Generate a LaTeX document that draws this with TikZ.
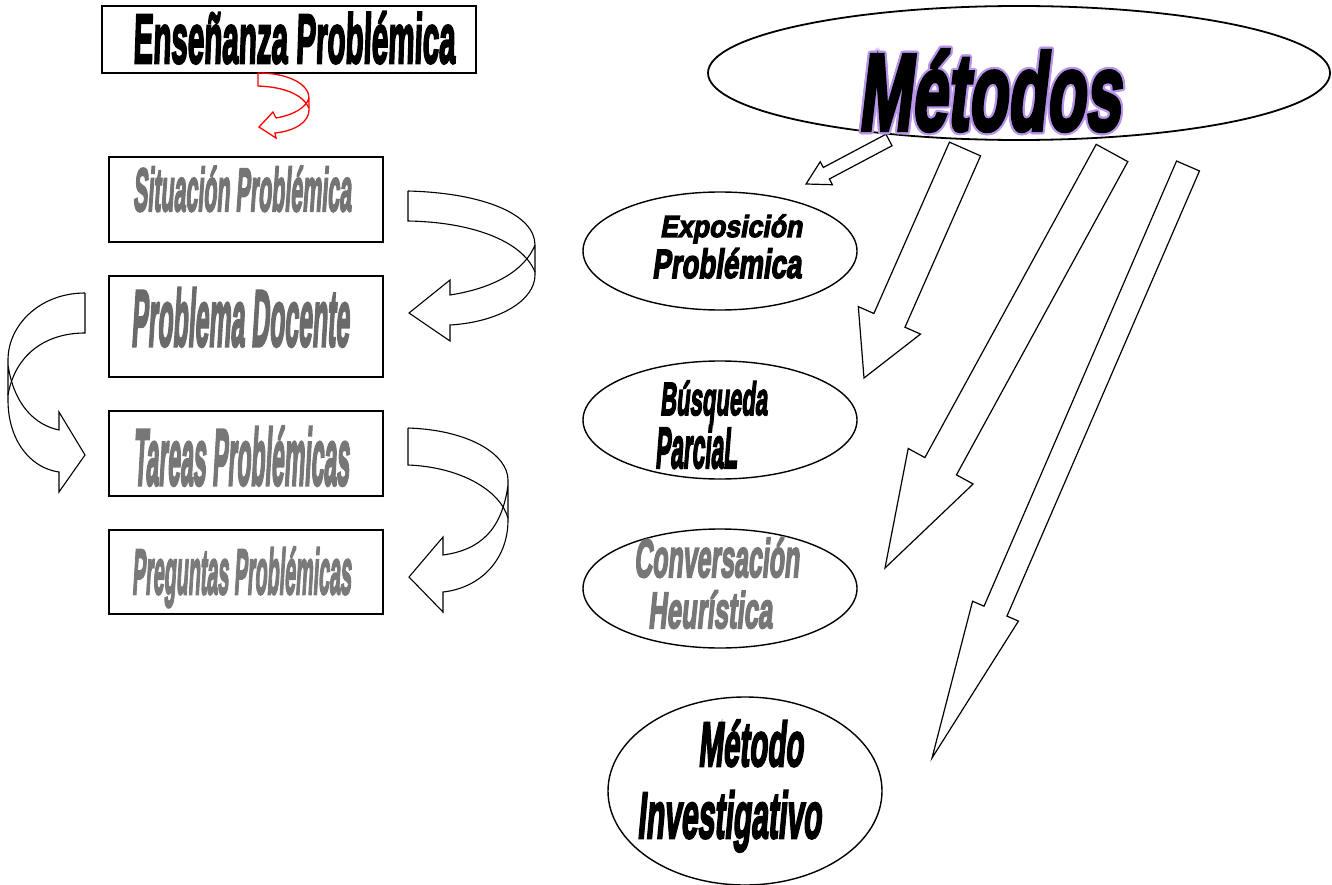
\documentclass[tikz,border=0pt]{standalone}
\usepackage{fontspec}
\usepackage{graphicx}
\usetikzlibrary{shapes.geometric,calc}
\newfontfamily\impup[FakeSlant=0.08,FakeBold=4]{Liberation Sans}
\newfontfamily\impsl[FakeSlant=0.2,FakeBold=4]{Liberation Sans}
\definecolor{gA}{HTML}{747474}
\definecolor{gB}{HTML}{6B6B6B}
\definecolor{gC}{HTML}{777777}
\definecolor{gD}{HTML}{7A7A7A}
\definecolor{vio}{HTML}{B894EA}
\definecolor{redline}{HTML}{FF0000}
% width, cap height, font switch, text
\newcommand\wt[4]{\resizebox{#1}{#2}{#3\raisebox{0pt}[\fontcharht\font`\H][0pt]{#4}}}
\newcommand\blockarr[6]{%
  \coordinate (#6T) at #1; \coordinate (#6P) at #2;
  \coordinate (#6B) at ($(#6P)!#5!(#6T)$);
  \draw[blockarrow] ($(#6T)!#3!90:(#6P)$) -- ($(#6B)!#3!-90:(#6T)$) -- ($(#6B)!#4!-90:(#6T)$) -- (#6P) -- ($(#6B)!#4!90:(#6T)$) -- ($(#6B)!#3!90:(#6T)$) -- ($(#6T)!#3!-90:(#6P)$) -- cycle;
}
\begin{document}
\begin{tikzpicture}[x=1pt,y=-1pt,
  box/.style={draw=black, line width=1.5pt, inner sep=0pt, outer sep=0pt},
  oval/.style={draw=black, line width=1.4pt, ellipse, inner sep=0pt, outer sep=0pt},
  wa/.style={anchor=base west, inner sep=0pt, outer sep=0pt},
  blockarrow/.style={draw=black, line width=1.2pt, fill=white, line join=miter},
  curvearrow/.style={draw=black, line width=1.1pt, line join=miter},
  redcurve/.style={draw=redline, line width=1.3pt, line join=miter}]
\useasboundingbox (0,0) rectangle (1332,885);
\fill[white] (0,0) rectangle (1332,885);

% left boxes
\node[box, minimum width=374pt, minimum height=67pt] (title) at (289,39.5) {};
\node[box, minimum width=274pt, minimum height=85pt] (b1) at (246,199.5) {};
\node[box, minimum width=274pt, minimum height=101pt] (b2) at (246,326.5) {};
\node[box, minimum width=274pt, minimum height=85pt] (b3) at (246,453.5) {};
\node[box, minimum width=274pt, minimum height=84pt] (b4) at (246,572) {};

\node[wa] (ttitle) at (133,63) {\wt{322pt}{48pt}{\impup\bfseries}{Enseñanza Problémica}};
\node[wa, text=gA] (t1) at (133,211) {\wt{218pt}{42pt}{\impsl\bfseries}{Situación Problémica}};
\node[wa, text=gB] (t2) at (131,346) {\wt{218pt}{55pt}{\impsl\bfseries}{Problema Docente}};
\node[wa, text=gC] (t3) at (133,485) {\wt{216pt}{55pt}{\impsl\bfseries}{Tareas Problémicas}};
\node[wa, text=gD] (t4) at (132,594) {\wt{219pt}{44pt}{\impsl\bfseries}{Preguntas Problémicas}};

% red curved arrow
\draw[redcurve] (258,73) .. controls (290,73) and (309,85) .. (309,98) -- (309,110) .. controls (309,122) and (295,131) .. (275,133)
  -- (276,138) -- (259,127) -- (273,112) -- (276,118) .. controls (293,115) and (306,108) .. (309,98);
\draw[redcurve] (258,73) -- (258,86) .. controls (285,87) and (303,95) .. (309,108);

% curved arrow 1
\draw[curvearrow] (408,191) .. controls (485,193) and (535,215) .. (535,245) -- (535,275) .. controls (535,300) and (500,322) .. (450,325)
  -- (450,341) -- (409,313) -- (450,280) -- (450,295) .. controls (495,288) and (525,270) .. (535,245);
\draw[curvearrow] (408,191) -- (408,221) .. controls (470,222) and (522,240) .. (535,272);

% curved arrow 2 (left)
\draw[curvearrow] (85,293) .. controls (40,293) and (8,325) .. (8,360) -- (8,400) .. controls (8,440) and (30,468) .. (59,472)
  -- (59,492) -- (85,455) -- (59,412) -- (59,430) .. controls (35,425) and (14,405) .. (8,365);
\draw[curvearrow] (85,293) -- (85,333) .. controls (45,333) and (15,355) .. (8,395);

% curved arrow 3
\draw[curvearrow] (408,428) .. controls (470,430) and (508,455) .. (508,480) -- (508,520) .. controls (508,560) and (480,588) .. (443,592)
  -- (443,612) -- (409,577) -- (443,537) -- (443,555) .. controls (480,550) and (502,530) .. (508,485);
\draw[curvearrow] (408,428) -- (408,465) .. controls (460,467) and (500,490) .. (508,518);

% Metodos ellipse
\node[oval, line width=1.8pt, minimum width=622pt, minimum height=134pt] (met) at (1019,73) {};

% method ellipses
\node[oval, minimum width=274pt, minimum height=118pt] (e1) at (720,251) {};
\node[oval, minimum width=274pt, minimum height=118pt] (e2) at (720,420) {};
\node[oval, minimum width=274pt, minimum height=119pt] (e3) at (720,588.5) {};
\node[oval, minimum width=274pt, minimum height=188pt] (e4) at (745,791) {};

% block arrows
\blockarr{(889,140)}{(806,184)}{6.5pt}{13pt}{23pt}{a1}
\blockarr{(965,149)}{(864,378)}{17pt}{34pt}{63pt}{a2}
\blockarr{(1112,153)}{(885,568)}{18pt}{37pt}{116pt}{a3}
\blockarr{(1188,166)}{(932,758)}{12.5pt}{25pt}{160pt}{a4}

% ellipse texts
\node[wa] (x1) at (660,237) {\wt{142pt}{21pt}{\impsl\bfseries}{Exposición}};
\node[wa] (x2) at (652,278) {\wt{149pt}{28pt}{\impsl\bfseries}{Problémica}};
\node[wa] (y1) at (660,415) {\wt{107pt}{32pt}{\impsl\bfseries}{Búsqueda}};
\node[wa] (y2) at (655,468) {\wt{82pt}{40pt}{\impsl\bfseries}{ParciaL}};
\node[wa, text=gC] (z1) at (634,577) {\wt{165pt}{37pt}{\impsl\bfseries}{Conversación}};
\node[wa, text=gC] (z2) at (648,628) {\wt{124pt}{35pt}{\impsl\bfseries}{Heurística}};
\node[wa] (w1) at (698,766) {\wt{105pt}{43pt}{\impsl\bfseries}{Método}};
\node[wa] (w2) at (637,838) {\wt{184pt}{45pt}{\impsl\bfseries}{Investigativo}};

% Metodos text: violet ring of copies, black text on top
\foreach \a [count=\i] in {0,30,...,330}
  \node[wa, text=vio] (mo\i) at ($(858,130)+(\a:2.2pt)$) {\wt{262pt}{75pt}{\impsl\bfseries}{Métodos}};
\node[wa] (mtxt) at (858,130) {\wt{262pt}{75pt}{\impsl\bfseries}{Métodos}};
\end{tikzpicture}
\end{document}
